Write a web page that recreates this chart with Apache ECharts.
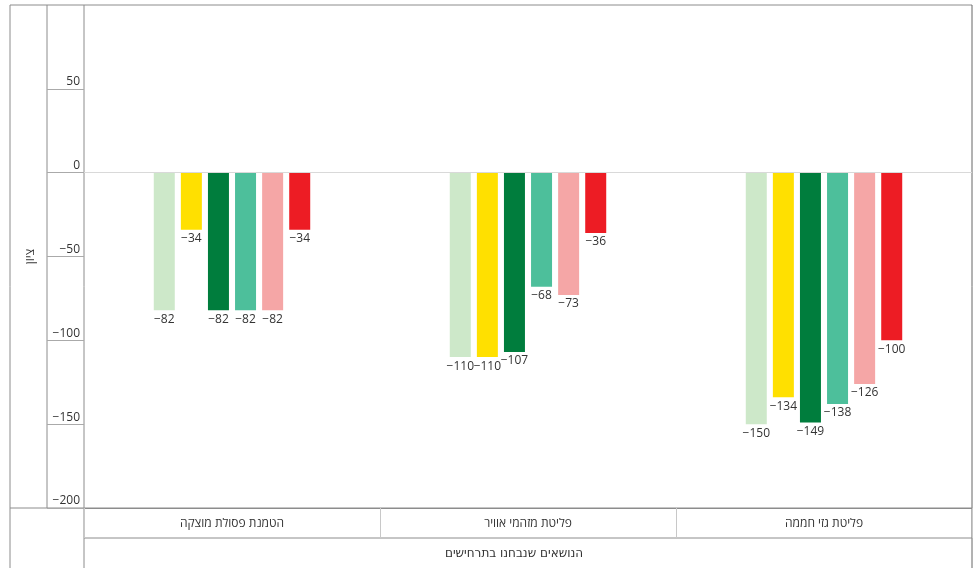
<!DOCTYPE html>
<html>
<head>
<meta charset="utf-8">
<script src="https://cdn.jsdelivr.net/npm/echarts@6/dist/echarts.min.js"></script>
<style>html,body{margin:0;padding:0;background:#fff}#c{width:973px;height:568px}</style>
</head>
<body>
<div id="c"></div>
<script>
// Categories, left to right as shown
const categories = ['הטמנת פסולת מוצקה', 'פליטת מזהמי אוויר', 'פליטת גזי חממה'];
// Series values (one array per bar colour, left to right within each group)
const seriesLightGreen = [-82, -110, -150];
const seriesYellow     = [-34, -110, -134];
const seriesDarkGreen  = [-82, -107, -149];
const seriesTeal       = [-82, -68, -138];
const seriesPink       = [-82, -73, -126];
const seriesRed        = [-34, -36, -100];
const seriesNames = ['1', '2', '3', '4', '5', '6'];
const seriesColors = ['#cde8c9', '#ffe000', '#007d3d', '#4dbf9b', '#f5a6a6', '#ed1c24'];
const yTitle = 'ציון';
const xTitle = 'הנושאים שנבחנו בתרחישים';

const allSeries = [seriesLightGreen, seriesYellow, seriesDarkGreen, seriesTeal, seriesPink, seriesRed];
const minus = v => String(v).replace('-', '\u2212');

// layout
const L = { frameL: 10, colA: 47, plotL: 84, right: 972, top: 5, plotB: 508, rowB: 538, bottom: 568 };
const frameColor = '#8c8c8c';
const lightColor = '#c8c8c8';

const chart = echarts.init(document.getElementById('c'));
const lineEl = (x1, y1, x2, y2, color) => ({
  type: 'line', silent: true,
  shape: { x1, y1, x2, y2 },
  style: { stroke: color, lineWidth: 1 }
});

chart.setOption({
  animation: false,
  textStyle: { fontFamily: '"Open Sans", "DejaVu Sans", sans-serif' },
  grid: {
    left: L.plotL, right: 973 - L.right, top: L.top, bottom: 568 - L.plotB,
    containLabel: false, outerBoundsMode: 'none'
  },
  xAxis: {
    type: 'category',
    data: categories,
    axisLine: { show: true, onZero: false, lineStyle: { color: frameColor } },
    axisTick: { show: true, length: L.rowB - L.plotB, inside: false, alignWithLabel: false, lineStyle: { color: lightColor } },
    axisLabel: { margin: 10, fontSize: 12, color: '#333', fontFamily: '"Open Sans", "DejaVu Sans", sans-serif' },
    splitLine: { show: false }
  },
  yAxis: {
    type: 'value',
    min: -200, max: 100, interval: 50,
    name: yTitle,
    nameLocation: 'middle',
    nameGap: 47,
    nameRotate: 90,
    nameTextStyle: { fontSize: 12, color: '#333', fontFamily: '"Open Sans", "DejaVu Sans", sans-serif' },
    axisLine: { show: false },
    axisTick: { show: true, length: L.plotL - L.colA, lineStyle: { color: '#aaaaaa' } },
    axisLabel: {
      showMaxLabel: false,
      verticalAlign: 'bottom',
      margin: 4,
      padding: [0, 0, 1, 0],
      fontSize: 12,
      color: '#333',
      formatter: v => minus(v)
    },
    splitLine: { show: false }
  },
  graphic: [
    lineEl(L.frameL, L.top, L.right, L.top, frameColor),
    lineEl(L.frameL, L.top, L.frameL, L.bottom, frameColor),
    lineEl(L.right, L.top, L.right, L.bottom, '#666'),
    lineEl(L.colA, L.top, L.colA, L.plotB, frameColor),
    lineEl(L.plotL, L.top, L.plotL, L.bottom, frameColor),
    lineEl(L.frameL, L.plotB, L.right, L.plotB, frameColor),
    lineEl(L.plotL, L.rowB, L.right, L.rowB, frameColor),
    {
      type: 'text', silent: true,
      x: 514, y: 554,
      style: {
        text: xTitle, fill: '#333', fontSize: 12,
        fontFamily: '"DejaVu Sans", sans-serif',
        align: 'center', verticalAlign: 'middle'
      }
    }
  ],
  series: allSeries.map((vals, i) => ({
    type: 'bar',
    name: seriesNames[i],
    data: vals,
    barWidth: 21,
    barGap: '29%',
    itemStyle: { color: seriesColors[i] },
    label: {
      show: true,
      position: 'bottom',
      distance: 3,
      fontSize: 12,
      color: '#333',
      formatter: p => minus(p.value)
    },
    markLine: i === 0 ? {
      silent: true, symbol: 'none', label: { show: false },
      lineStyle: { color: '#d9d9d9', type: 'solid', width: 1 },
      data: [{ yAxis: 0 }]
    } : undefined
  }))
});
</script>
</body>
</html>
